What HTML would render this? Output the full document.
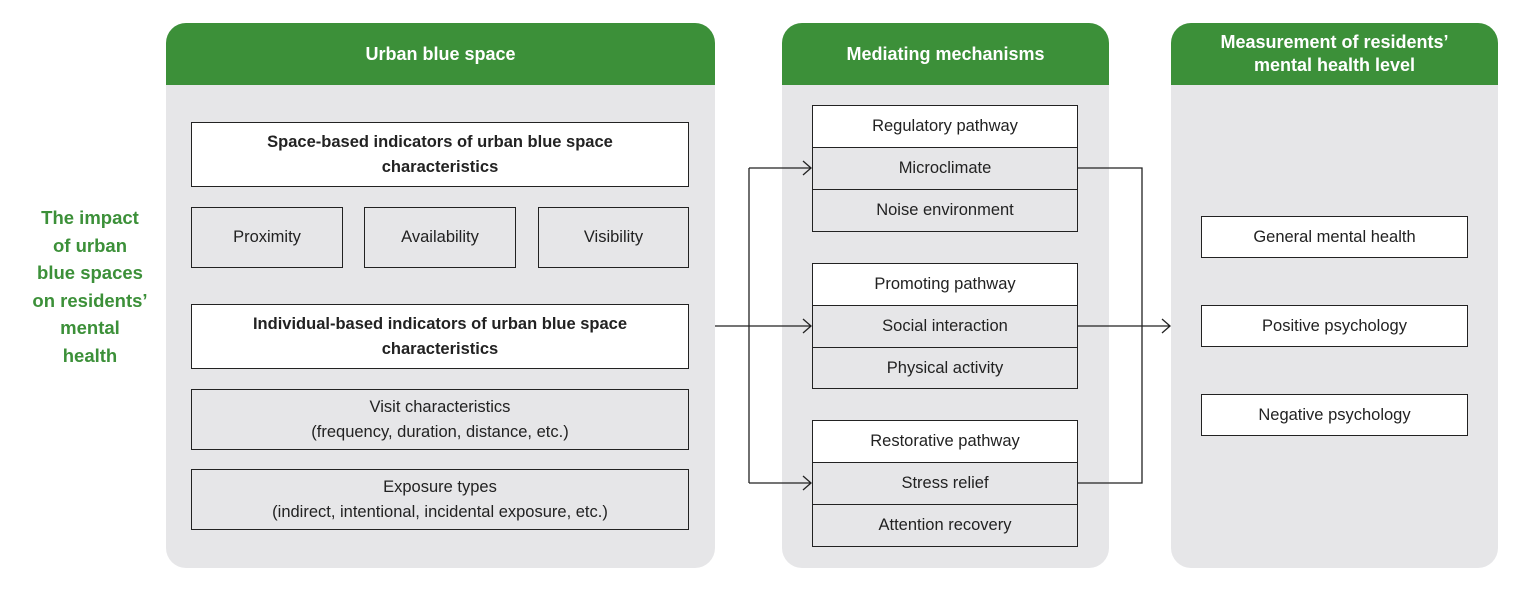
<!DOCTYPE html>
<html><head><style>
body{margin:0;width:1530px;height:599px;background:#fff;position:relative;font-family:"Liberation Sans",sans-serif;overflow:hidden}
.a{position:absolute;box-sizing:border-box}
.panel{background:#e6e6e8;border-radius:20px;overflow:hidden}
.hd{position:absolute;left:0;right:0;top:0;height:62px;background:#3c9039;color:#fff;font-weight:bold;font-size:18px;display:flex;align-items:center;justify-content:center;text-align:center;line-height:23px}
.b{position:absolute;box-sizing:border-box;border:1.3px solid #222;display:flex;align-items:center;justify-content:center;text-align:center;font-size:16.5px;color:#222;line-height:25px}
.w{background:#fff}
.bold{font-weight:bold}
</style></head><body>
<div class="a" style="left:10px;top:204px;width:160px;text-align:center;color:#3c9039;font-weight:bold;font-size:18.5px;line-height:27.5px">The impact<br>of urban<br>blue spaces<br>on residents’<br>mental<br>health</div>

<div class="a panel" style="left:166px;top:23px;width:549px;height:545px"><div class="hd">Urban blue space</div></div>
<div class="a panel" style="left:782px;top:23px;width:327px;height:545px"><div class="hd">Mediating mechanisms</div></div>
<div class="a panel" style="left:1171px;top:23px;width:327px;height:545px"><div class="hd">Measurement of residents’<br>mental health level</div></div>

<div class="b w bold" style="left:191px;top:122px;width:498px;height:65px">Space-based indicators of urban blue space<br>characteristics</div>
<div class="b" style="left:191px;top:207px;width:152px;height:61px">Proximity</div>
<div class="b" style="left:364px;top:207px;width:152px;height:61px">Availability</div>
<div class="b" style="left:538px;top:207px;width:151px;height:61px">Visibility</div>
<div class="b w bold" style="left:191px;top:304px;width:498px;height:65px">Individual-based indicators of urban blue space<br>characteristics</div>
<div class="b" style="left:191px;top:389px;width:498px;height:61px">Visit characteristics<br>(frequency, duration, distance, etc.)</div>
<div class="b" style="left:191px;top:469px;width:498px;height:61px">Exposure types<br>(indirect, intentional, incidental exposure, etc.)</div>

<div class="b w" style="left:812px;top:105px;width:266px;height:43px">Regulatory pathway</div>
<div class="b" style="left:812px;top:147px;width:266px;height:43px">Microclimate</div>
<div class="b" style="left:812px;top:189px;width:266px;height:43px">Noise environment</div>
<div class="b w" style="left:812px;top:263px;width:266px;height:43px">Promoting pathway</div>
<div class="b" style="left:812px;top:305px;width:266px;height:43px">Social interaction</div>
<div class="b" style="left:812px;top:347px;width:266px;height:42px">Physical activity</div>
<div class="b w" style="left:812px;top:420px;width:266px;height:43px">Restorative pathway</div>
<div class="b" style="left:812px;top:462px;width:266px;height:43px">Stress relief</div>
<div class="b" style="left:812px;top:504px;width:266px;height:43px">Attention recovery</div>

<div class="b w" style="left:1201px;top:216px;width:267px;height:42px">General mental health</div>
<div class="b w" style="left:1201px;top:305px;width:267px;height:42px">Positive psychology</div>
<div class="b w" style="left:1201px;top:394px;width:267px;height:42px">Negative psychology</div>

<svg class="a" style="left:0;top:0" width="1530" height="599">
<g stroke="#222" stroke-width="1.3" fill="none">
<path d="M715 326H811M749 168V483M749 168H811M749 483H811"/>
<path d="M803 161L811 168L803 175M803 319L811 326L803 333M803 476L811 483L803 490"/>
<path d="M1078 168H1142V483H1078M1078 326H1170"/>
<path d="M1162 319L1170 326L1162 333"/>
</g></svg>
</body></html>
